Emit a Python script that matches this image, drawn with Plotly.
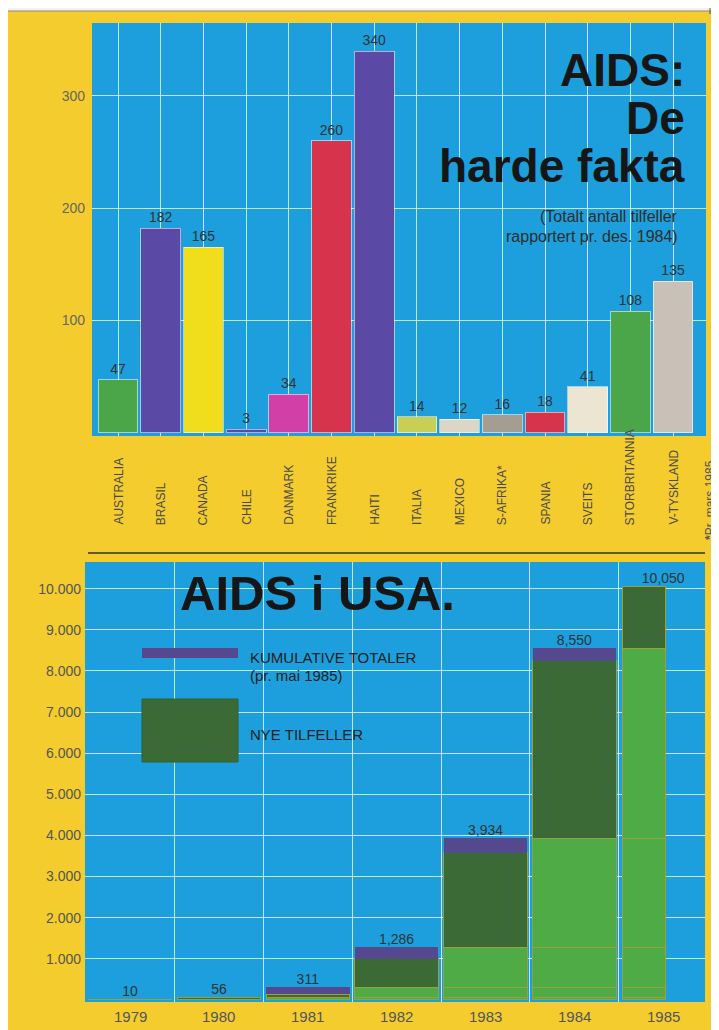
import plotly.graph_objects as go

# ---------------- DATA ----------------
countries = ["AUSTRALIA", "BRASIL", "CANADA", "CHILE", "DANMARK", "FRANKRIKE", "HAITI",
             "ITALIA", "MEXICO", "S-AFRIKA*", "SPANIA", "SVEITS", "STORBRITANNIA", "V-TYSKLAND"]
cases = [47, 182, 165, 3, 34, 260, 340, 14, 12, 16, 18, 41, 108, 135]
bar_colors = ["#4aa649", "#5a4aa6", "#f0de1c", "#5a4aa6", "#d23fa6", "#d8334d", "#5a4aa6",
              "#c9cf55", "#ddd6c6", "#a49d92", "#d8334d", "#ece5d2", "#4aa649", "#c9c1b8"]
top_yticks = [100, 200, 300]

years = ["1979", "1980", "1981", "1982", "1983", "1984", "1985"]
cumulative = [10, 56, 311, 1286, 3934, 8550, 10050]
total_band = [0, 0, 170, 280, 350, 300, 0]   # purple "kumulative totaler" band height
usa_yticks = [1000, 2000, 3000, 4000, 5000, 6000, 7000, 8000, 9000, 10000]
usa_yticktext = ["1.000", "2.000", "3.000", "4.000", "5.000", "6.000", "7.000", "8.000", "9.000", "10.000"]

# ---------------- STYLE ----------------
PAGE_OFF = 8                      # browser body margin
W, H = 719 - PAGE_OFF, 1030 - PAGE_OFF
YELLOW = "#f4cc2e"
BLUE = "#1c9fdc"
GRID = "rgba(225,242,252,0.85)"
LIGHT_G = "#4fab45"
DARK_G = "#3b6a37"
PURPLE = "#56488f"
FONT = "Liberation Sans"


def px_x(p):
    return (p - PAGE_OFF) / W


def px_y(p):
    return 1 - (p - PAGE_OFF) / H


fig = go.Figure()

# ---- top chart ----
fig.add_trace(go.Bar(
    x=list(range(len(countries))), y=cases, marker=dict(color=bar_colors,
    line=dict(color="rgba(255,255,255,0.55)", width=1)),
    text=[str(v) for v in cases], textposition="outside", cliponaxis=False,
    textfont=dict(family=FONT, size=14, color="#333333"),
    xaxis="x", yaxis="y", showlegend=False, width=0.93))

# ---- bottom chart: stacked increments ----
n = len(years)
increments = [cumulative[0]] + [cumulative[i] - cumulative[i - 1] for i in range(1, n)]
widths = [0.94] * (n - 1) + [0.48]
offsets = [-0.47] * (n - 1) + [-0.46]
for j in range(n):
    yv, cols = [], []
    for i in range(n):
        if i < j:
            yv.append(None)
            cols.append(LIGHT_G)
        elif i == j:
            yv.append(increments[j] - total_band[j])
            cols.append(DARK_G)
        else:
            yv.append(increments[j])
            cols.append(LIGHT_G)
    fig.add_trace(go.Bar(x=years, y=yv, marker=dict(color=cols, line=dict(color="#9aa03a", width=1)),
                         width=widths, offset=offsets, xaxis="x2", yaxis="y2", showlegend=False))
fig.add_trace(go.Bar(x=years, y=[b if b > 0 else None for b in total_band],
                     marker=dict(color=PURPLE, line=dict(color=PURPLE, width=0)),
                     width=widths, offset=offsets, xaxis="x2", yaxis="y2", showlegend=False))
fig.add_trace(go.Scatter(x=years, y=cumulative, mode="text", text=[f"{v:,}" for v in cumulative],
                         textposition="top center", cliponaxis=False,
                         textfont=dict(family=FONT, size=14, color="#333333"),
                         xaxis="x2", yaxis="y2", showlegend=False))

annotations = []
# rotated country labels
for i, c in enumerate(countries):
    annotations.append(dict(x=i, y=px_y(527), xref="x", yref="paper", text=c, textangle=-90,
                            showarrow=False, xanchor="center", yanchor="bottom",
                            font=dict(family=FONT, size=12, color="#4a4a4a")))
# year labels under the bottom chart (category index positions)
for i, y in enumerate(years):
    annotations.append(dict(x=i, y=px_y(1016), xref="x2", yref="paper", text=y, showarrow=False,
                            xanchor="center", yanchor="middle",
                            font=dict(family=FONT, size=15, color="#555555")))
# footnote
annotations.append(dict(x=px_x(710), y=px_y(542), xref="paper", yref="paper",
                        text="<b>*</b>Pr. mars 1985", textangle=-90, showarrow=False,
                        xanchor="center", yanchor="bottom",
                        font=dict(family=FONT, size=12, color="#555555")))
# titles top
for txt, yc in [("AIDS:", 70), ("De", 118), ("harde fakta", 166)]:
    annotations.append(dict(x=px_x(687), y=px_y(yc), xref="paper", yref="paper", text=f"<b>{txt}</b>",
                            showarrow=False, xanchor="right", yanchor="middle",
                            font=dict(family=FONT, size=46, color="#161616")))
for txt, yc in [("(Totalt antall tilfeller", 217), ("rapportert pr. des. 1984)", 236)]:
    annotations.append(dict(x=px_x(680), y=px_y(yc), xref="paper", yref="paper", text=txt,
                            showarrow=False, xanchor="right", yanchor="middle",
                            font=dict(family=FONT, size=16, color="#2e2e2e")))
# bottom title
annotations.append(dict(x=px_x(178), y=px_y(593), xref="paper", yref="paper", text="<b>AIDS i USA.</b>",
                        showarrow=False, xanchor="left", yanchor="middle",
                        font=dict(family=FONT, size=49, color="#161616")))
# legend texts
for txt, yc in [("KUMULATIVE TOTALER", 657), ("(pr. mai 1985)", 675), ("NYE TILFELLER", 734)]:
    annotations.append(dict(x=px_x(248), y=px_y(yc), xref="paper", yref="paper", text=txt,
                            showarrow=False, xanchor="left", yanchor="middle",
                            font=dict(family=FONT, size=15, color="#222222")))

shapes = [
    # paper edge at top
    dict(type="rect", xref="paper", yref="paper", x0=0, x1=1, y0=px_y(11), y1=1,
         fillcolor="#f3f1ea", line=dict(width=0), layer="below"),
    dict(type="line", xref="paper", yref="paper", x0=0, x1=1, y0=px_y(11), y1=px_y(11),
         line=dict(color="#8a8a80", width=1)),
    dict(type="line", xref="paper", yref="paper", x0=px_x(710), x1=px_x(710), y0=1, y1=px_y(14),
         line=dict(color="#555555", width=1)),
    # separator
    dict(type="line", xref="paper", yref="paper", x0=px_x(88), x1=px_x(705), y0=px_y(553), y1=px_y(553),
         line=dict(color="#3a3320", width=1.5)),
    # legend swatches
    dict(type="rect", xref="paper", yref="paper", x0=px_x(142), x1=px_x(238), y0=px_y(658), y1=px_y(648),
         fillcolor=PURPLE, line=dict(width=0)),
    dict(type="rect", xref="paper", yref="paper", x0=px_x(142), x1=px_x(238), y0=px_y(762), y1=px_y(699),
         fillcolor=DARK_G, line=dict(color="#34602f", width=1)),
]

fig.update_layout(
    width=W, height=H, margin=dict(l=0, r=0, t=0, b=0),
    paper_bgcolor=YELLOW, plot_bgcolor=BLUE, barmode="stack", bargap=0.07,
    font=dict(family=FONT),
    xaxis=dict(domain=[px_x(92), px_x(706)], range=[-0.61, 13.77], showticklabels=False,
               showgrid=True, gridcolor=GRID, gridwidth=1, zeroline=False, ticks="",
               tickvals=list(range(len(countries))), anchor="y"),
    yaxis=dict(domain=[px_y(436), px_y(23)], range=[-3, 365], tickvals=top_yticks,
               showgrid=True, gridcolor=GRID, gridwidth=1, zeroline=False, ticks="",
               ticklabelstandoff=6, tickfont=dict(family=FONT, size=14, color="#666666"), anchor="x"),
    xaxis2=dict(domain=[px_x(85), px_x(705)], range=[-0.507, 6.47], type="category",
                tickson="boundaries", showgrid=True, gridcolor=GRID, gridwidth=1, ticks="",
                showticklabels=False, zeroline=False, anchor="y2"),
    yaxis2=dict(domain=[px_y(1002), px_y(562)], range=[-50, 10650], tickvals=usa_yticks,
                ticktext=usa_yticktext, showgrid=True, gridcolor=GRID, gridwidth=1, zeroline=False,
                ticks="", ticklabelstandoff=3, tickfont=dict(family=FONT, size=14, color="#555555"),
                anchor="x2"),
    annotations=annotations, shapes=shapes,
)

fig.write_html("out.html")
